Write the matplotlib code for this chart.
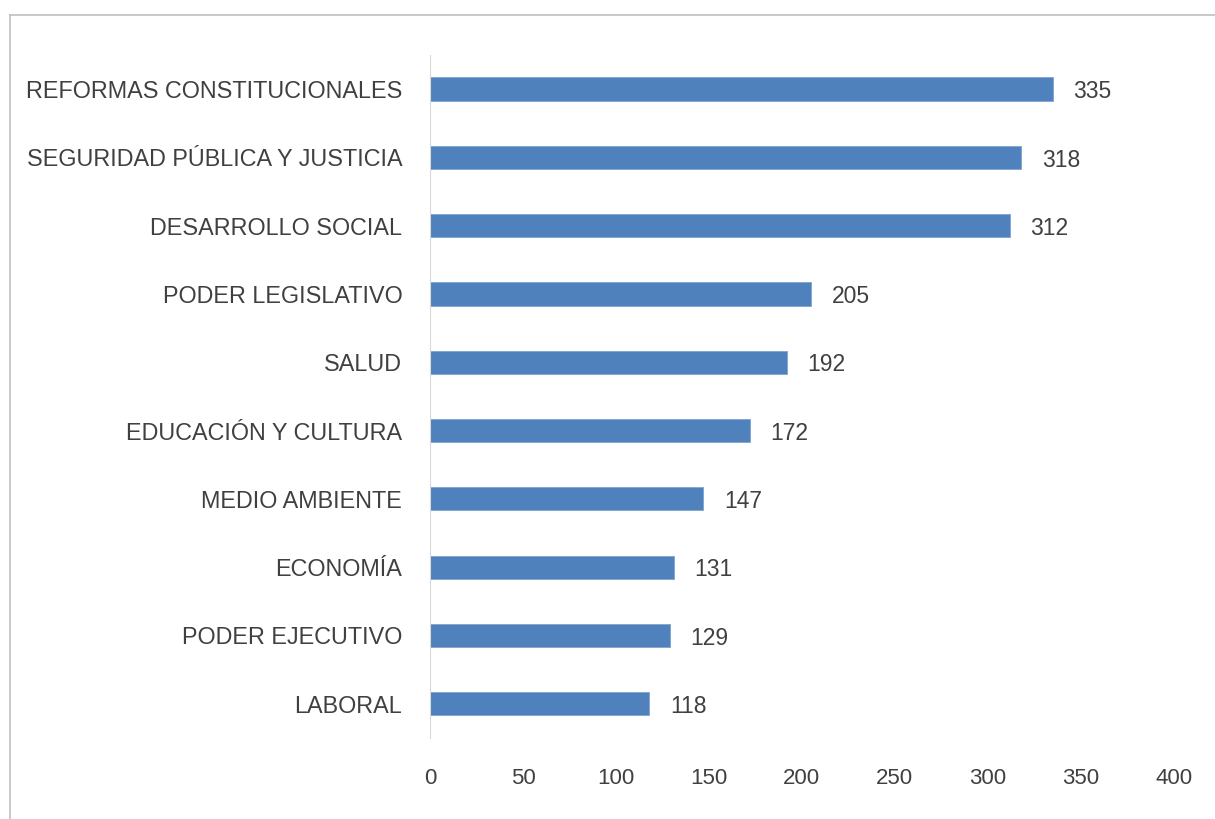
import matplotlib.pyplot as plt
from matplotlib.lines import Line2D

categories = ["REFORMAS CONSTITUCIONALES", "SEGURIDAD PÚBLICA Y JUSTICIA",
              "DESARROLLO SOCIAL", "PODER LEGISLATIVO", "SALUD",
              "EDUCACIÓN Y CULTURA", "MEDIO AMBIENTE", "ECONOMÍA",
              "PODER EJECUTIVO", "LABORAL"]
values = [335, 318, 312, 205, 192, 172, 147, 131, 129, 118]
xticks = [0, 50, 100, 150, 200, 250, 300, 350, 400]

plt.rcParams['font.family'] = ['Liberation Sans', 'DejaVu Sans']
txt = '#404040'

fig = plt.figure(figsize=(12.15, 8.19), dpi=100, facecolor='white')
ax = fig.add_axes([0.354, 0.099, 0.612, 0.834])

pos = list(range(len(categories)))[::-1]
ax.barh(pos, values, height=0.34, color='#4F81BD', edgecolor='#7FA3D0', linewidth=0.6)
for p, v in zip(pos, values):
    ax.text(v + 11, p - 0.04, str(v), va='center', ha='left', fontsize=16.5, color=txt)

ax.set_xlim(0, 400)
ax.set_ylim(-0.5, len(categories) - 0.5)
ax.set_xticks(xticks)
ax.set_yticks(pos)
ax.set_yticklabels(categories)
ax.tick_params(axis='both', length=0, colors=txt)
ax.tick_params(axis='y', pad=20, labelsize=16.8)
ax.tick_params(axis='x', pad=22, labelsize=16)
for s in ['top', 'right', 'bottom']:
    ax.spines[s].set_visible(False)
ax.spines['left'].set_color('#D9D9D9')

# outer chart frame (partly cut off)
fig.add_artist(Line2D([10/1215, 1], [1 - 15/819] * 2, color='#BFBFBF', lw=1.2))
fig.add_artist(Line2D([10/1215] * 2, [0, 1 - 15/819], color='#BFBFBF', lw=1.2))

fig.savefig('out.png', dpi=100, facecolor='white')
